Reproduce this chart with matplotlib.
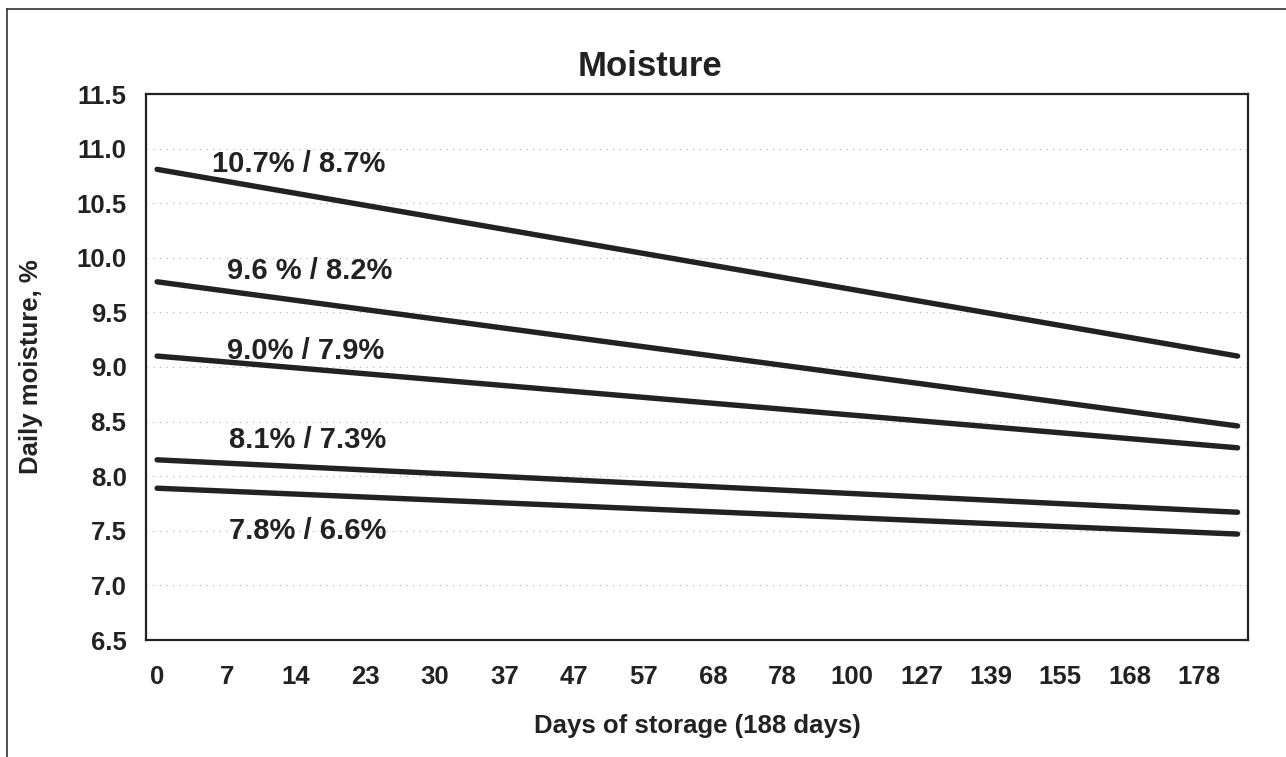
import matplotlib.pyplot as plt
from matplotlib.lines import Line2D

# x tick labels (days of storage), one per category slot
days = ['0', '7', '14', '23', '30', '37', '47', '57', '68', '78',
        '100', '127', '139', '155', '168', '178']

# trend lines: start at slot 0, end just past the last labelled slot (188 days)
x_start = 0
x_end = 15.55
start_vals = [10.81, 9.78, 9.10, 8.15, 7.89]
end_vals = [9.10, 8.46, 8.26, 7.67, 7.47]

labels = ['10.7% / 8.7%', '9.6 % / 8.2%', '9.0% / 7.9%', '8.1% / 7.3%', '7.8% / 6.6%']
label_y = [10.86, 9.88, 9.15, 8.33, 7.50]
label_x = [0.79, 1.0, 1.0, 1.03, 1.03]

plt.rcParams['font.family'] = ['Liberation Sans', 'DejaVu Sans']
plt.rcParams['font.weight'] = 'bold'

fig = plt.figure(figsize=(12.86, 7.57), dpi=100)
ax = fig.add_axes([146/1286, 1 - 640/757, (1248 - 146)/1286, (640 - 94)/757])

for s, e in zip(start_vals, end_vals):
    ax.plot([x_start, x_end], [s, e], color='#222222', lw=3.9, solid_capstyle='round')

for t, x, y in zip(labels, label_x, label_y):
    ax.text(x, y, t, fontsize=21, fontweight='bold', color='#222222',
            ha='left', va='center')

ax.set_xlim(-0.16, 15.7)
ax.set_ylim(6.5, 11.5)
ax.set_xticks(range(len(days)))
ax.set_xticklabels(days)
yt = [6.5 + 0.5 * i for i in range(11)]
ax.set_yticks(yt)
ax.set_yticklabels(['%.1f' % v for v in yt])
ax.tick_params(axis='both', length=0, labelsize=18.5, colors='#222222')
ax.tick_params(axis='x', pad=18)
ax.tick_params(axis='y', pad=14)
for lab in ax.get_xticklabels() + ax.get_yticklabels():
    lab.set_fontweight('bold')

ax.grid(axis='y', color='#aaaaaa', linestyle=(0, (1, 5)), lw=0.8)
for sp in ax.spines.values():
    sp.set_linewidth(1.6)
    sp.set_color('#222222')

ax.set_title('Moisture', fontsize=25, fontweight='bold', color='#222222', pad=13, x=0.457)
ax.set_xlabel('Days of storage (188 days)', fontsize=18.5, fontweight='bold',
              color='#222222', labelpad=18)
ax.set_ylabel('Daily moisture, %', fontsize=18.5, fontweight='bold',
              color='#222222', labelpad=24)

# outer frame of the scanned chart
fig.add_artist(Line2D([7/1286, 7/1286], [0, 1 - 9/757], transform=fig.transFigure,
                      color='#333333', lw=1.2))
fig.add_artist(Line2D([7/1286, 1], [1 - 9/757, 1 - 9/757], transform=fig.transFigure,
                      color='#333333', lw=1.2))

fig.savefig('out.png', dpi=100)
